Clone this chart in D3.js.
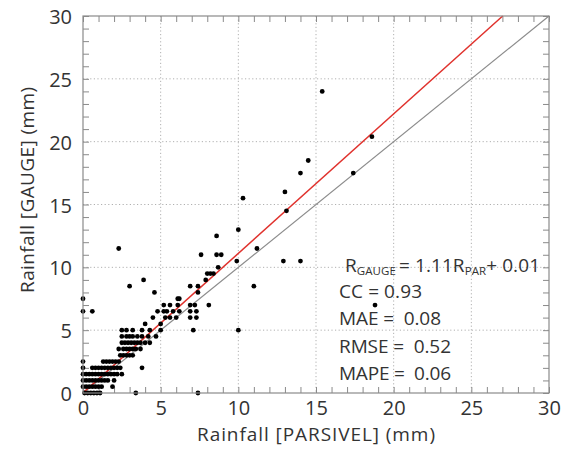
<!DOCTYPE html>
<html>
<head>
<meta charset="utf-8">
<script src="https://cdn.jsdelivr.net/npm/d3@7"></script>
<style>
  body { margin: 0; background: #fff; }
  svg { display: block; }
  text { font-family: "Open Sans", "Noto Sans", sans-serif; fill: #333; }
</style>
</head>
<body>
<svg id="chart" width="570" height="450"></svg>
<script>
// ---- data ----
// [PARSIVEL rainfall (mm), GAUGE rainfall (mm)]
const points = [
  [0.1,0],[0.3,0],[0.5,0],[0.7,0],[0.9,0],[1.1,0],[3.4,0],[7.4,0],
  [0,0.5],[0.2,0.5],[0.4,0.5],[0.6,0.5],[0.8,0.5],[1.0,0.5],[1.2,0.5],[1.9,0.5],
  [0,1],[0.2,1],[0.4,1],[0.6,1],[0.8,1],[1.0,1],[1.2,1],[1.4,1],[1.6,1],[2.0,1],
  [0,1.5],[0.2,1.5],[0.4,1.5],[0.6,1.5],[0.8,1.5],[1.0,1.5],[1.2,1.5],[1.4,1.5],[1.6,1.5],[1.8,1.5],[2.0,1.5],[2.2,1.5],[2.5,1.5],
  [0,2],[0.6,2],[0.8,2],[1.0,2],[1.2,2],[1.4,2],[1.6,2],[1.8,2],[2.0,2],[2.2,2],[2.4,2],[3.8,2],
  [0,2.5],[1.3,2.5],[1.5,2.5],[1.7,2.5],[1.9,2.5],[2.1,2.5],[2.3,2.5],
  [2.4,3],[2.6,3],[2.8,3],[3.0,3],[3.2,3],
  [2.3,3.5],[2.6,3.5],[2.8,3.5],[3.0,3.5],[3.2,3.5],[3.4,3.5],[3.7,3.5],
  [2.5,4],[2.7,4],[2.9,4],[3.1,4],[3.3,4],[3.5,4],[3.7,4],[4.0,4],[4.3,4],
  [2.5,4.5],[2.8,4.5],[3.0,4.5],[3.2,4.5],[3.5,4.5],[3.8,4.5],[4.2,4.5],[4.7,4.5],
  [2.5,5],[2.8,5],[3.2,5],[3.8,5],[4.3,5],[5.0,5],[7.1,5],[10.0,5],
  [4.0,5.5],[5.0,5.5],
  [4.5,6],[5.3,6],[5.6,6],[6.0,6],[6.9,6],[7.3,6],
  [0,6.5],[0.6,6.5],[4.8,6.5],[5.2,6.5],[5.4,6.5],[5.8,6.5],[6.2,6.5],[6.9,6.5],[7.3,6.5],
  [5.2,7],[5.6,7],[6.1,7],[6.9,7],[7.2,7],[8.1,7],[18.8,7],
  [0,7.5],[6.1,7.5],[6.2,7.5],
  [4.6,8],[7.4,8],
  [3.0,8.5],[6.9,8.5],[7.4,8.5],[11.0,8.5],
  [3.9,9],[7.9,9],
  [8.0,9.5],[8.2,9.5],[8.4,9.5],
  [8.7,10],
  [9.9,10.5],[12.9,10.5],[14.0,10.5],
  [7.6,11],[8.6,11],[8.9,11],
  [2.3,11.5],[11.2,11.5],
  [8.6,12.5],[10.0,13],[13.1,14.5],[10.3,15.5],[13.0,16],
  [14.0,17.5],[17.4,17.5],[14.5,18.5],[18.6,20.4],[15.4,24]
];
const majorTicks = [0, 5, 10, 15, 20, 25, 30];
const gridValues = [5, 10, 15, 20, 25];
const fitSlope = 1.11;
const fitIntercept = 0.01;
const statLabels = ["CC = 0.93", "MAE =  0.08", "RMSE =  0.52", "MAPE =  0.06"];
const xTitle = "Rainfall [PARSIVEL] (mm)";
const yTitle = "Rainfall [GAUGE] (mm)";

// ---- layout ----
const svg = d3.select("#chart");
const L = 83, R = 549, T = 16, B = 393;
const x = d3.scaleLinear().domain([0, 30]).range([L, R]);
const y = d3.scaleLinear().domain([0, 30]).range([B, T]);
const minor = d3.range(0, 31, 1);

// grid
const grid = svg.append("g");
grid.selectAll(".gx").data(gridValues).join("line")
  .attr("x1", d => x(d)).attr("x2", d => x(d)).attr("y1", T).attr("y2", B)
  .attr("stroke", "#b0b0b0").attr("stroke-width", 1).attr("stroke-dasharray", "1.2,2.4");
grid.selectAll(".gy").data(gridValues).join("line")
  .attr("y1", d => y(d)).attr("y2", d => y(d)).attr("x1", L).attr("x2", R)
  .attr("stroke", "#b0b0b0").attr("stroke-width", 1).attr("stroke-dasharray", "1.2,2.4");

// minor inward ticks on all four sides
function styleTicks(g) {
  g.select(".domain").remove();
  g.selectAll("line").attr("stroke", "#8a8a8a").attr("stroke-width", 1);
}
svg.append("g").attr("transform", `translate(0,${B})`)
  .call(d3.axisBottom(x).tickValues(minor).tickSize(-6).tickFormat("")).call(styleTicks);
svg.append("g").attr("transform", `translate(0,${T})`)
  .call(d3.axisTop(x).tickValues(minor).tickSize(-6).tickFormat("")).call(styleTicks);
svg.append("g").attr("transform", `translate(${L},0)`)
  .call(d3.axisLeft(y).tickValues(minor).tickSize(-6).tickFormat("")).call(styleTicks);
svg.append("g").attr("transform", `translate(${R},0)`)
  .call(d3.axisRight(y).tickValues(minor).tickSize(-6).tickFormat("")).call(styleTicks);

// tick labels
const xl = svg.append("g").attr("transform", `translate(0,${B})`)
  .call(d3.axisBottom(x).tickValues(majorTicks).tickSize(0).tickPadding(8).tickFormat(d3.format("d")));
xl.select(".domain").remove();
xl.selectAll("text").attr("font-size", 20).attr("fill", "#333")
  .attr("font-family", '"Open Sans", sans-serif');

const yl = svg.append("g").attr("transform", `translate(${L},0)`)
  .call(d3.axisLeft(y).tickValues(majorTicks).tickSize(0).tickPadding(11).tickFormat(d3.format("d")));
yl.select(".domain").remove();
yl.selectAll("text").attr("font-size", 20).attr("fill", "#333").attr("dy", "0.38em")
  .attr("font-family", '"Open Sans", sans-serif');

// 1:1 line
svg.append("line")
  .attr("x1", x(0)).attr("y1", y(0)).attr("x2", x(30)).attr("y2", y(30))
  .attr("stroke", "#8c8c8c").attr("stroke-width", 1.2);

// regression line
const xEnd = (30 - fitIntercept) / fitSlope;
svg.append("line")
  .attr("x1", x(0)).attr("y1", y(fitIntercept))
  .attr("x2", x(xEnd)).attr("y2", y(30))
  .attr("stroke", "#e0322d").attr("stroke-width", 1.5);

// points
svg.append("g").selectAll("circle").data(points).join("circle")
  .attr("cx", d => x(d[0])).attr("cy", d => y(d[1])).attr("r", 2.4)
  .attr("fill", "#000");

// frame
svg.append("rect").attr("x", L).attr("y", T).attr("width", R - L).attr("height", B - T)
  .attr("fill", "none").attr("stroke", "#8a8a8a").attr("stroke-width", 1.2);

// equation
const eq = svg.append("text").attr("x", 345).attr("y", 272).attr("font-size", 19)
  .attr("textLength", 195).attr("lengthAdjust", "spacing");
eq.append("tspan").text("R");
eq.append("tspan").attr("font-size", 11.5).attr("dy", 3).text("GAUGE");
eq.append("tspan").attr("dy", -3).attr("dx", 3).text("= " + fitSlope.toFixed(2) + "R");
eq.append("tspan").attr("font-size", 11.5).attr("dy", 3).text("PAR");
eq.append("tspan").attr("dy", -3).text("+ " + fitIntercept.toFixed(2));

// stats
const statWidths = [83, 102, 112, 112];
svg.append("g").selectAll("text").data(statLabels).join("text")
  .attr("x", 339).attr("y", (d, i) => 298 + i * 27.3)
  .attr("font-size", 19).style("white-space", "pre").attr("xml:space", "preserve")
  .attr("textLength", (d, i) => statWidths[i]).attr("lengthAdjust", "spacing")
  .text(d => d);

// axis titles
svg.append("text").attr("x", (L + R) / 2).attr("y", 441).attr("text-anchor", "middle")
  .attr("font-size", 19).attr("textLength", 238).attr("lengthAdjust", "spacing").text(xTitle);
svg.append("text").attr("transform", "translate(34,190) rotate(-90)").attr("text-anchor", "middle")
  .attr("font-size", 19).attr("textLength", 206).attr("lengthAdjust", "spacing").text(yTitle);
</script>
</body>
</html>
